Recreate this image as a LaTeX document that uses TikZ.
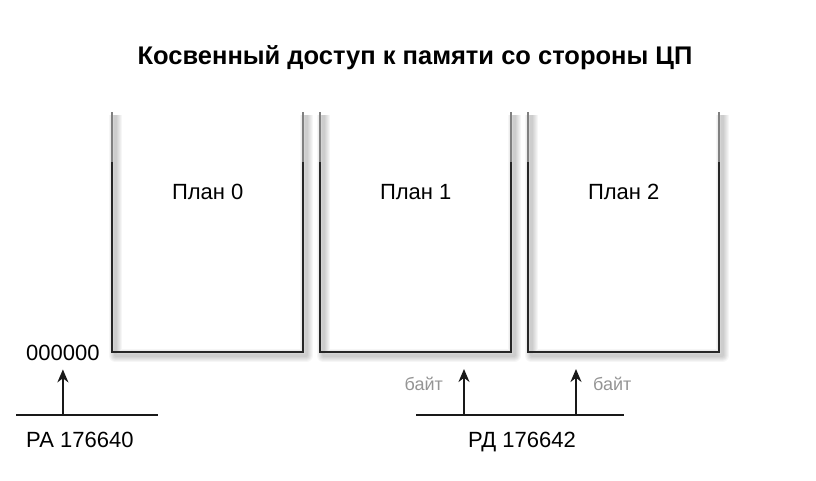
\documentclass[tikz,border=0pt]{standalone}
\usepackage{fontspec}
\setmainfont{Liberation Sans}
\usetikzlibrary{positioning,arrows.meta}

\begin{document}
\begin{tikzpicture}[x=1pt,y=-1pt,
plane/.style={
  draw=none,
  minimum width=191pt,
  minimum height=240pt,
  inner sep=0pt,
  anchor=north west
  },
wall/.style={draw=black!85, line width=2pt, line join=miter},
walltop/.style={draw=black!50, line width=2pt},
glow/.style={draw=black, opacity=0.035, line join=round},
lbl/.style={font=\fontsize{22}{26}\selectfont, inner sep=0pt, anchor=base},
note/.style={font=\fontsize{18}{22}\selectfont, text=black!42, inner sep=0pt},
bus/.style={draw=black!90, line width=2pt},
>={Stealth[length=13pt,width=11pt]}
]
\useasboundingbox (0,0) rectangle (816,480);

\node[font=\bfseries\fontsize{25.5}{30}\selectfont, inner sep=0pt, anchor=base] (title) at (415,64)
  {Косвенный доступ к памяти со стороны ЦП};

% три плана памяти
\foreach \i/\xl in {0/112,1/320,2/528}
{
  \node[plane] (plan\i) at (\xl,112) {};
  \foreach \w in {3,5,...,13}
    \draw[glow, line width=\w pt]
      ([shift={(3pt,-3pt)}]plan\i.north west) |- ([shift={(3pt,-3pt)}]plan\i.south east)
      -- ([shift={(3pt,-3pt)}]plan\i.north east);
  \draw[walltop] (plan\i.north west) -- ([yshift=-50pt]plan\i.north west);
  \draw[walltop] (plan\i.north east) -- ([yshift=-50pt]plan\i.north east);
  \draw[wall] ([yshift=-50pt]plan\i.north west) |- (plan\i.south east)
    -- ([yshift=-50pt]plan\i.north east);
  \node[lbl] (name\i) at ([yshift=-87pt]plan\i.north) {План \i};
}

% регистр адреса
\node[lbl, anchor=base west] (zero) at (26,360) {000000};
\coordinate (pa-l) at (16,415);
\coordinate (pa-r) at (158,415);
\coordinate (pa-tap) at (zero.south |- pa-l);
\draw[bus] (pa-l) -- (pa-r);
\draw[bus,->] (pa-tap) -- ([yshift=-9pt]zero.south);
\node[lbl, anchor=base west] (pa) at (26,447) {РА 176640};

% регистр данных
\coordinate (pd-l) at (416,415);
\coordinate (pd-r) at (624,415);
\coordinate (pd-a) at (464,415);
\coordinate (pd-b) at (576,415);
\coordinate (lo-a) at (464,369);
\coordinate (lo-b) at (576,369);
\draw[bus] (pd-l) -- (pd-r);
\draw[bus,->] (pd-a) -- (lo-a);
\draw[bus,->] (pd-b) -- (lo-b);
\node[note, anchor=base east] (byte-a) at (443,390) {байт};
\node[note, anchor=base west] (byte-b) at (593,390) {байт};
\node[lbl, anchor=base] (pd) at (522,447) {РД 176642};
\end{tikzpicture}
\end{document}
